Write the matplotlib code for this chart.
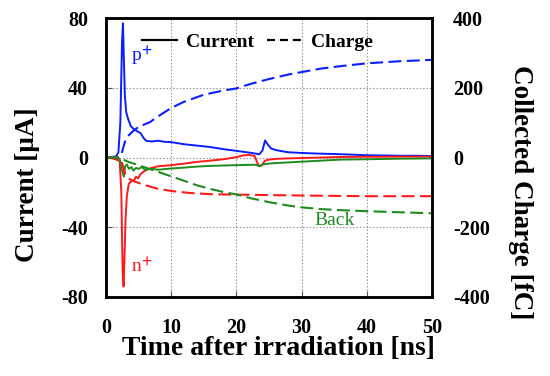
"""
Transient current and collected charge after irradiation (p+, n+, Back).
"""
import matplotlib
matplotlib.use('Agg')
import matplotlib.pyplot as plt
from matplotlib.lines import Line2D

# ---- data ----
# currents [uA]
t_p = [0, 1.0, 1.6, 1.9, 2.2, 2.45, 2.6, 2.75, 2.9, 3.1, 3.4, 3.8, 4.2, 4.8, 5.3, 5.8, 6.2,
       7, 8, 9, 10, 11, 12, 14, 16, 18, 20, 22, 23, 23.5, 24.0, 24.4, 24.8, 25.3, 26, 27, 28,
       30, 32, 35, 38, 40, 42, 45, 48, 50]
i_p = [0, 0.3, 0.8, 3, 20, 65, 77, 55, 35, 26, 22, 18, 16.5, 15, 14, 11, 9.5,
       9.2, 9.6, 9, 8.8, 8.2, 7.6, 6.8, 6, 4.8, 3.8, 2.8, 2.2, 1.8, 4, 9.8, 7.5, 5.2, 4.3, 3.6, 3,
       2.6, 2.3, 2, 1.6, 1.3, 1.2, 1, 1, 0.8]

t_n = [0, 1.0, 1.8, 2.1, 2.35, 2.55, 2.7, 2.85, 3.0, 3.2, 3.5, 3.9, 4.3, 4.6, 4.9, 5.3, 5.8,
       6.5, 8, 10, 12, 14, 16, 18, 20, 21, 22, 22.8, 23.2, 23.5, 23.9, 24.4, 25, 26, 28, 30,
       33, 36, 40, 45, 50]
i_n = [0, -0.5, -1.5, -2, -20, -65, -74, -55, -35, -22, -15, -13.5, -13, -11, -12, -9.5, -8,
       -6.5, -5, -4.4, -3.5, -2.5, -1.8, -1, 0.2, 1.2, 1.5, 0.8, -3, -5, -4.5, -1.8, -1.2, -0.8,
       -0.5, -0.3, 0, 0.3, 0.4, 0.5, 0.5]

t_b = [0, 1.5, 2.0, 2.2, 2.5, 2.75, 2.95, 3.2, 3.5, 3.9, 4.2, 4.6, 5.0, 5.5, 6, 7, 8, 10, 12,
       14, 16, 18, 20, 22, 23, 23.5, 24, 25, 26, 28, 30, 33, 36, 40, 45, 50]
i_b = [0, 0, -0.5, -2, -8, -11, -5, -4, -6.5, -5.5, -7.5, -6, -6.5, -5.5, -7, -6.5, -7, -6.3,
       -5.8, -5.2, -4.8, -4.6, -4.4, -4.2, -4.2, -5, -4, -3.5, -3.2, -2.8, -2.4, -1.8, -1.2,
       -1, -0.7, -0.5]

# collected charge [fC]
tq_p = [0, 1.8, 2.3, 2.6, 2.9, 3.3, 4.1, 5, 6.7, 8, 10, 12, 15, 18, 20, 22, 25, 28, 30, 33,
        36, 40, 45, 50]
q_p = [0, 0, 5, 25, 45, 60, 75, 88, 101, 118, 142, 160, 180, 192, 198, 210, 225, 238, 245,
       255, 262, 270, 276, 280]

tq_n = [0, 1.8, 2.3, 2.6, 2.9, 3.3, 4.0, 5.0, 6.5, 8, 10, 13, 16, 18, 22, 26, 30, 35, 40,
        45, 50]
q_n = [0, 0, -5, -25, -45, -58, -66, -73, -82, -90, -96, -102, -105, -106, -107, -108, -109,
       -110, -111, -111, -111]

tq_b = [0, 2.0, 2.5, 3.0, 3.5, 5, 7, 10, 12, 14, 16, 18, 20, 22, 25, 28, 30, 33, 36, 40,
        45, 50]
q_b = [0, 0, -4, -9, -13, -22, -35, -54, -67, -80, -90, -99, -106, -116, -128, -138, -143,
       -148, -151, -154, -157, -160]

x_ticks = [0, 10, 20, 30, 40, 50]
i_ticks = [-80, -40, 0, 40, 80]
q_ticks = [-400, -200, 0, 200, 400]

BLUE, RED, GREEN = '#0a1eff', '#ff1a1a', '#1e8c1e'
SERIF = ['Liberation Serif', 'DejaVu Serif']

plt.rcParams['font.family'] = SERIF
plt.rcParams['font.weight'] = 'bold'
plt.rcParams['mathtext.fontset'] = 'stix'
plt.rcParams['axes.unicode_minus'] = False

fig = plt.figure(figsize=(5.5, 3.76), dpi=100)
ax = fig.add_axes([106 / 550, 1 - 297 / 376, 326 / 550, 279 / 376])
ax2 = ax.twinx()

lw = 1.4
ax.plot(t_p, i_p, color=BLUE, lw=lw)
ax.plot(t_n, i_n, color=RED, lw=lw)
ax.plot(t_b, i_b, color=GREEN, lw=lw)

dash = (6.2, 2.6)
ax2.plot(tq_p, q_p, color=BLUE, lw=1.5, dashes=dash)
ax2.plot(tq_n, q_n, color=RED, lw=1.5, dashes=dash)
ax2.plot(tq_b, q_b, color=GREEN, lw=1.5, dashes=dash)

ax.set_xlim(0, 50)
ax.set_ylim(-80, 80)
ax2.set_ylim(-400, 400)
ax.set_xticks(x_ticks)
ax.set_yticks(i_ticks)
ax2.set_yticks(q_ticks)

ax.grid(True, color='#8c8c8c', ls=(0, (1.2, 1.8)), lw=0.8)
for a in (ax, ax2):
    for s in a.spines.values():
        s.set_linewidth(1.8)
ax.tick_params(axis='both', direction='in', length=4, width=0.8, color='#555555',
               labelsize=14.5, pad=13)
ax.tick_params(axis='x', pad=15)
ax2.tick_params(axis='y', direction='in', length=0, labelsize=14.5, pad=15)

# series labels
ax.text(3.9, 58, r'p$^{+}$', color=BLUE, fontsize=14, fontweight='normal', va='center')
ax.text(3.9, -63, r'n$^{+}$', color=RED, fontsize=14, fontweight='normal', va='center')
ax.text(35.1, -36, 'Back', color=GREEN, fontsize=14, fontweight='normal',
        ha='center', va='center')

handles = [Line2D([], [], color='black', lw=1.6),
           Line2D([], [], color='black', lw=1.6, dashes=(3.6, 2.2))]
ax.legend(handles, ['Current', 'Charge'], loc='center', bbox_to_anchor=(0.465, 0.913),
          ncol=2, frameon=False, handlelength=1.8, handletextpad=0.45, columnspacing=0.7,
          prop={'family': SERIF, 'weight': 'bold', 'size': 14})

fig.text(278 / 550, 1 - 355 / 376, 'Time after irradiation [ns]', fontsize=20,
         ha='center', va='baseline')
fig.text(28 / 550, 1 - 185 / 376, 'Current [\u00b5A]', fontsize=19.5, rotation=90,
         ha='center', va='center')
fig.text(520 / 550, 1 - 192 / 376, 'Collected Charge [fC]', fontsize=19.5, rotation=270,
         ha='center', va='center')

fig.savefig('out.png', dpi=100)
